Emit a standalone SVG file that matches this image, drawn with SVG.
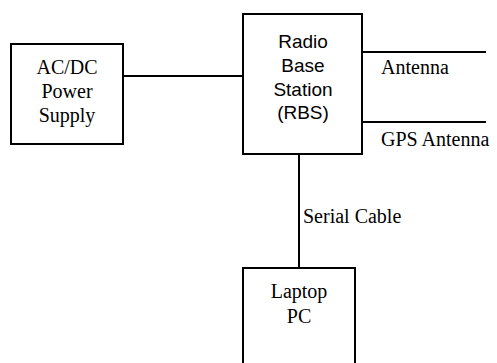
<svg xmlns="http://www.w3.org/2000/svg" width="497" height="363" viewBox="0 0 497 363">
<style>
.box{fill:#fff;stroke:#000;stroke-width:2}
.ln{stroke:#000;stroke-width:2;fill:none}
.serif{font-family:"Liberation Serif","Times New Roman",serif;font-size:20px;fill:#000}
.sans{font-family:"Liberation Sans",Arial,sans-serif;font-size:19px;fill:#000}
</style>
<rect width="497" height="363" fill="#fff"/>
<g id="connectors">
<line class="ln" x1="123" y1="76" x2="243" y2="76"/>
<line class="ln" x1="362" y1="52" x2="486" y2="52"/>
<line class="ln" x1="362" y1="122" x2="486" y2="122"/>
<line class="ln" x1="299" y1="154" x2="299" y2="268"/>
<text class="serif" x="381" y="74">Antenna</text>
<text class="serif" x="381" y="146">GPS Antenna</text>
<text class="serif" x="303" y="223">Serial Cable</text>
</g>
<g id="power">
<rect class="box" x="11" y="44" width="112" height="100"/>
<text class="serif" text-anchor="middle" x="67" y="74">AC/DC</text>
<text class="serif" text-anchor="middle" x="67" y="98">Power</text>
<text class="serif" text-anchor="middle" x="67" y="122">Supply</text>
</g>
<g id="rbs">
<rect class="box" x="243" y="14" width="119" height="140"/>
<text class="sans" text-anchor="middle" x="303" y="48">Radio</text>
<text class="sans" text-anchor="middle" x="303" y="72">Base</text>
<text class="sans" text-anchor="middle" x="303" y="96">Station</text>
<text class="sans" text-anchor="middle" x="303" y="119">(RBS)</text>
</g>
<g id="laptop">
<rect class="box" x="243" y="268" width="112" height="100"/>
<text class="serif" text-anchor="middle" x="299" y="298">Laptop</text>
<text class="serif" text-anchor="middle" x="299" y="323">PC</text>
</g>
</svg>
